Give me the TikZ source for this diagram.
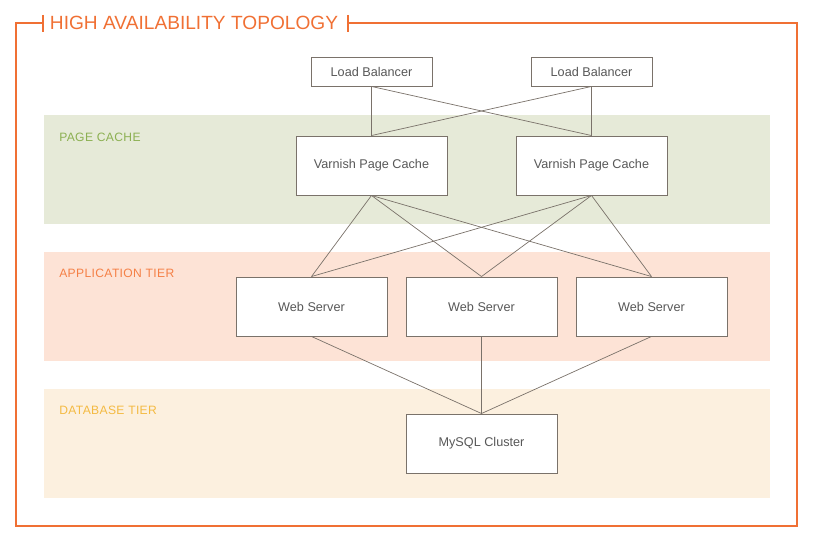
\documentclass[tikz,border=0pt]{standalone}
\usepackage{fontspec}
\setmainfont{Liberation Sans}
\newfontfamily\spacedfont[LetterSpace=3]{Liberation Sans}
\usepackage{tikz}
\usetikzlibrary{positioning, calc}
\definecolor{myorange}{RGB}{240,112,52}
\definecolor{mygray}{RGB}{122,114,106}
\definecolor{mytext}{RGB}{88,88,88}
\definecolor{lblgreen}{RGB}{140,176,82}
\definecolor{lblorange}{RGB}{245,128,70}
\definecolor{lblyellow}{RGB}{244,186,66}
\definecolor{bandgreen}{RGB}{230,234,216}
\definecolor{bandorange}{RGB}{253,227,214}
\definecolor{bandyellow}{RGB}{252,240,223}
\tikzset{
  lbbox/.style={rectangle, draw=mygray, fill=white, line width=0.65pt,
    minimum width=3.025cm, minimum height=0.725cm, inner sep=0pt,
    font=\fontsize{9}{10}\selectfont, text=mytext},
  tierbox/.style={rectangle, draw=mygray, fill=white, line width=0.65pt,
    minimum width=3.775cm, minimum height=1.475cm, inner sep=0pt,
    font=\fontsize{9}{10}\selectfont, text=mytext},
  tierlabel/.style={anchor=west, inner sep=0pt,
    font=\spacedfont\fontsize{8.6}{10}\selectfont},
  link/.style={draw=mygray, line width=0.5pt},
  frame/.style={draw=myorange, line width=0.9pt}
}

\begin{document}
\begin{tikzpicture}[x=0.025cm, y=-0.025cm]
  \useasboundingbox (0,0) rectangle (817,544);
  % tier bands
  \fill[bandgreen]  (44,115) rectangle (770,224);
  \fill[bandorange] (44,252) rectangle (770,361);
  \fill[bandyellow] (44,389) rectangle (770,498);
  \node[tierlabel, text=lblgreen]  (lblcache) at (59,137) {PAGE CACHE};
  \node[tierlabel, text=lblorange] (lblapp)   at (59,273) {APPLICATION TIER};
  \node[tierlabel, text=lblyellow] (lbldb)    at (59,410) {DATABASE TIER};
  % outer frame with title
  \node[inner sep=0pt, text=myorange, font=\fontsize{13.6}{15}\selectfont] (title) at (194,23) {HIGH AVAILABILITY TOPOLOGY};
  \draw[frame] (43,23) -- (16,23) -- (16,526) -- (797,526) -- (797,23) -- (348,23);
  \draw[frame] (43,15) -- (43,32);
  \draw[frame] (348,15) -- (348,32);
  % boxes
  \node[lbbox] (lbA) at (371.5,71.5) {Load Balancer};
  \node[lbbox] (lbB) at (591.5,71.5) {Load Balancer};
  \node[tierbox] (cacheA) at (371.5,165.5) {Varnish Page Cache};
  \node[tierbox] (cacheB) at (591.5,165.5) {Varnish Page Cache};
  \node[tierbox] (webA) at (311.5,306.5) {Web Server};
  \node[tierbox] (webB) at (481.5,306.5) {Web Server};
  \node[tierbox] (webC) at (651.5,306.5) {Web Server};
  \node[tierbox] (mysql) at (481.5,443.5) {MySQL Cluster};
  % connections
  \foreach \a in {lbA, lbB} {
    \foreach \b in {cacheA, cacheB} {
      \draw[link] (\a.south) -- (\b.north);
    }
  }
  \foreach \a in {cacheA, cacheB} {
    \foreach \b in {webA, webB, webC} {
      \draw[link] (\a.south) -- (\b.north);
    }
  }
  \foreach \a in {webA, webB, webC} {
    \draw[link] (\a.south) -- (mysql.north);
  }
\end{tikzpicture}
\end{document}
